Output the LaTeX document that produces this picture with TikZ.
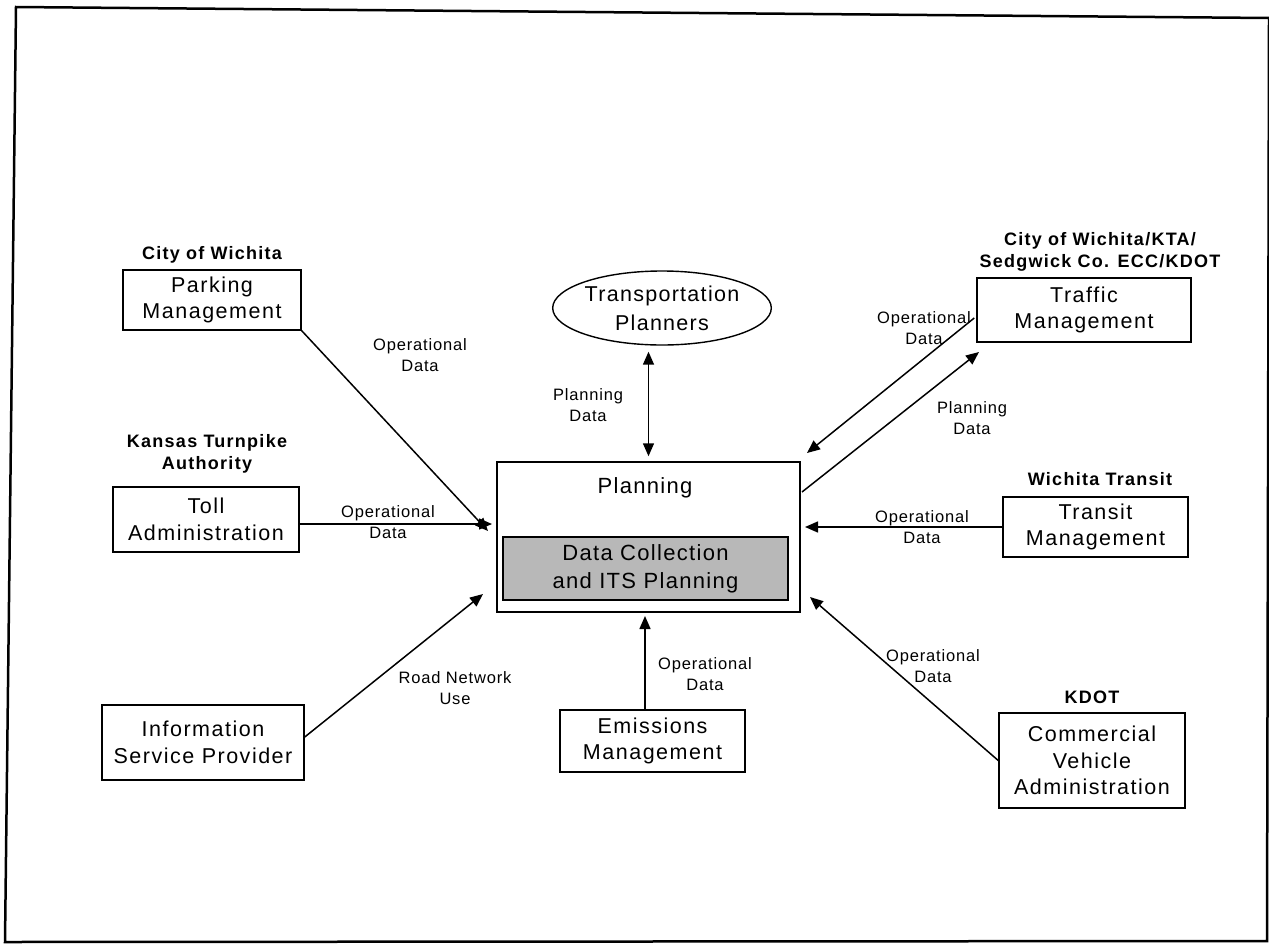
\documentclass[tikz,border=0pt]{standalone}
\usepackage{fontspec}
\setmainfont{Liberation Sans}
\newfontfamily\boxfont[LetterSpace=7]{Liberation Sans}
\newfontfamily\lblfont[LetterSpace=5]{Liberation Sans}
\newfontfamily\orgfont[LetterSpace=7]{Liberation Sans}
\newfontfamily\ctrfont[LetterSpace=6]{Liberation Sans}
\usetikzlibrary{arrows.meta,shapes.geometric,calc}
\begin{document}
\begin{tikzpicture}[x=1pt,y=-1pt,
  box/.style={draw, line width=1.5pt, inner sep=0pt, align=center,
    font=\boxfont\fontsize{21.5}{26.5}\selectfont},
  org/.style={inner sep=0pt, align=center, font=\orgfont\bfseries\fontsize{18}{22}\selectfont},
  lbl/.style={inner sep=0pt, align=center, font=\lblfont\fontsize{16.5}{20.5}\selectfont},
  ctr/.style={inner sep=0pt, align=center, font=\ctrfont\fontsize{22}{28}\selectfont},
  tip/.tip={Triangle[length=13pt,width=11pt]},
  arr/.style={line width=1.5pt, -tip},
  dbl/.style={line width=1.5pt, tip-tip},
  frame/.style={line width=2.5pt}]
\useasboundingbox (0,0) rectangle (1269,948);
\draw[frame] (16,7) -- (1269,18) -- (1267,941) -- (5,942) -- cycle;

% central node
\node[draw, line width=1.5pt, minimum width=303pt, minimum height=150pt, inner sep=0pt] (plan) at (648.5,537) {};
\node[ctr] (plantxt) at (645,488) {Planning};
\node[draw, line width=1.3pt, fill=black!28, minimum width=285pt, minimum height=63pt, inner sep=0pt,
  align=center, font=\ctrfont\fontsize{22}{28}\selectfont] (dc) at (645.5,568.5) {Data Collection\\and ITS Planning};

% ellipse
\node[draw, ellipse, line width=1.4pt, minimum width=216pt, minimum height=74pt, inner sep=0pt,
  align=center, font=\ctrfont\fontsize{21.5}{29}\selectfont] (tp) at (662,308) {Transportation\\Planners};

% left side
\node[org] (parkorg) at (212,255) {City of Wichita};
\node[box, minimum width=178pt, minimum height=60pt] (park) at (212,300) {Parking\\Management};
\node[org] (tollorg) at (207,454) {Kansas Turnpike\\Authority};
\node[box, minimum width=186pt, minimum height=65pt] (toll) at (206,519.5) {Toll\\Administration};
\node[box, minimum width=202pt, minimum height=75pt] (info) at (203,742.5) {Information\\Service Provider};

% bottom
\node[box, minimum width=185pt, minimum height=62pt] (emis) at (652.5,741) {Emissions\\Management};

% right side
\node[org] (traforg) at (1100,252) {City of Wichita/KTA/\\Sedgwick Co. ECC/KDOT};
\node[box, minimum width=214pt, minimum height=64pt] (traf) at (1084,310) {Traffic\\Management};
\node[org] (tranorg) at (1100,479) {Wichita Transit};
\node[box, minimum width=185pt, minimum height=60pt] (tran) at (1095.5,527) {Transit\\Management};
\node[org] (cvaorg) at (1092,697) {KDOT};
\node[box, minimum width=186pt, minimum height=95pt] (cva) at (1092,760.5) {Commercial\\Vehicle\\Administration};

% arrow end points
\coordinate (e1) at (488,531);
\coordinate (e2) at (492,524);
\coordinate (e3) at (483,594);
\coordinate (e5) at (807,453);
\coordinate (s6) at (802,492);
\coordinate (e6) at (979,352);
\coordinate (e7) at (805,527);
\coordinate (e8) at (645,616);
\coordinate (e9) at (810,597);

% connectors
\draw[arr] (park.south east) -- (e1);
\draw[arr] ([yshift=-4.5pt]toll.east) -- (e2);
\draw[arr] ([yshift=5.5pt]info.east) -- (e3);
\draw[dbl, shorten <=6pt, shorten >=5pt] (tp.south -| plan.north) -- (plan.north);
\draw[arr] ([yshift=-8pt,xshift=-2pt]traf.west) -- (e5);
\draw[arr] (s6) -- (e6);
\draw[arr] (tran.west) -- (e7);
\draw[arr] ([xshift=-7.5pt]emis.north) -- (e8);
\draw[arr] (cva.west) -- (e9);

% labels
\node[lbl] (l1) at (420,355) {Operational\\Data};
\node[lbl] (l2) at (388,522) {Operational\\Data};
\node[lbl] (l3) at (455,688) {Road Network\\Use};
\node[lbl] (l4) at (588,405) {Planning\\Data};
\node[lbl] (l5) at (924,328) {Operational\\Data};
\node[lbl] (l6) at (972,418) {Planning\\Data};
\node[lbl] (l7) at (922,527) {Operational\\Data};
\node[lbl] (l8) at (705,674) {Operational\\Data};
\node[lbl] (l9) at (933,666) {Operational\\Data};
\end{tikzpicture}
\end{document}
